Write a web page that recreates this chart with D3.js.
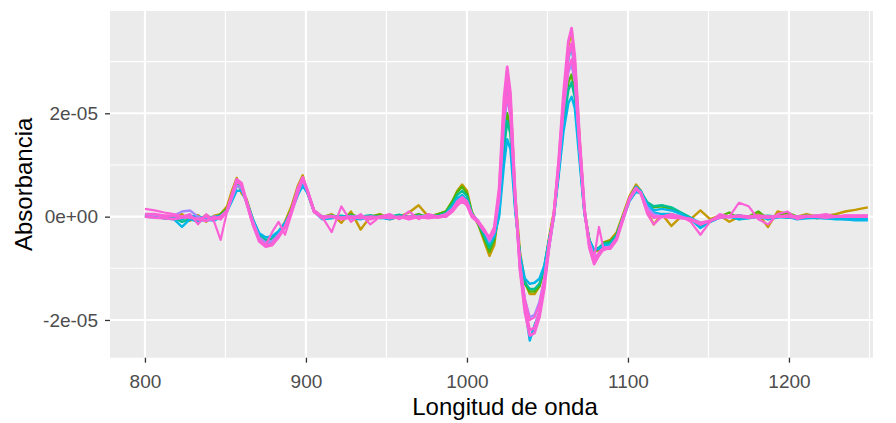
<!DOCTYPE html>
<html><head><meta charset="utf-8">
<script src="https://cdn.jsdelivr.net/npm/d3@7"></script>
<style>body{margin:0;background:#fff} svg{display:block} text{font-family:"Liberation Sans",Arial,sans-serif}</style>
</head><body><svg id="chart" width="896" height="423"></svg>
<script>
// Wavelength (nm)
const wavelengths = [800,806,812,818,823,828,833,838,843,847,
 851,854,857,860,863,867,871,875,879,883,
 887,891,895,898,901,905,910,916,922,928,
 934,940,946,952,958,964,970,976,982,987,
 991,994,997,1000,1003,1007,1011,1014,1017,1020,
 1023,1025,1027,1030,1033,1036,1039,1042,1045,1048,
 1051,1054,1057,1060,1063,1065,1067,1070,1073,1076,
 1079,1082,1085,1089,1093,1097,1101,1105,1108,1112,
 1116,1121,1127,1133,1139,1145,1151,1157,1163,1169,
 1175,1181,1187,1193,1199,1205,1211,1217,1223,1229,
 1235,1241,1249];

// Absorbance values, in units of 1e-05
const muestraA = [0.00,0.02,0.00,-0.02,0.05,-0.08,0.03,-0.10,0.02,0.05,
 0.20,0.50,0.75,0.45,0.35,-0.05,-0.35,-0.47,-0.44,-0.30,
 -0.10,0.20,0.60,0.80,0.45,0.10,-0.02,0.05,-0.12,0.10,
 -0.25,0.00,0.05,-0.05,0.00,0.08,0.22,0.00,0.05,0.10,
 0.30,0.50,0.62,0.50,0.10,-0.15,-0.50,-0.76,-0.55,0.20,
 2.00,2.85,2.30,0.40,-0.70,-1.25,-1.50,-1.50,-1.35,-1.00,
 -0.40,0.10,1.00,2.20,3.30,3.60,3.00,1.50,0.10,-0.45,
 -0.68,-0.65,-0.50,-0.45,-0.30,0.05,0.40,0.62,0.50,0.10,
 -0.15,0.05,-0.18,0.00,-0.05,0.12,-0.05,0.02,-0.10,0.00,
 0.00,0.05,-0.20,0.10,0.05,0.00,0.05,0.00,0.02,0.05,
 0.10,0.13,0.18];
const muestraB = [0.00,0.00,-0.03,0.00,-0.05,0.00,-0.08,0.03,-0.05,0.05,
 0.15,0.40,0.65,0.55,0.30,-0.10,-0.42,-0.52,-0.48,-0.35,
 -0.15,0.15,0.55,0.72,0.50,0.12,0.00,0.03,-0.02,0.05,
 -0.03,0.00,0.04,-0.04,0.02,0.00,0.05,-0.02,0.05,0.10,
 0.30,0.48,0.58,0.45,0.08,-0.15,-0.45,-0.68,-0.45,0.10,
 1.50,2.00,1.70,0.20,-0.80,-1.30,-1.45,-1.45,-1.35,-1.00,
 -0.45,0.05,0.90,1.90,2.60,2.75,2.40,1.20,0.10,-0.45,
 -0.68,-0.62,-0.50,-0.48,-0.35,0.00,0.35,0.55,0.50,0.25,
 0.18,0.20,0.15,0.05,-0.05,-0.18,-0.10,0.00,0.08,-0.05,
 0.00,0.10,-0.05,0.02,0.08,0.00,0.02,-0.03,0.00,0.02,
 0.00,0.00,0.00];
const muestraC = [0.02,0.00,0.00,-0.02,-0.10,-0.05,0.00,-0.05,0.00,0.00,
 0.12,0.38,0.60,0.58,0.32,-0.05,-0.35,-0.45,-0.42,-0.32,
 -0.15,0.12,0.50,0.68,0.48,0.12,0.00,0.00,0.02,-0.02,
 0.00,0.03,-0.03,0.00,0.04,-0.02,0.00,0.03,0.02,0.08,
 0.25,0.42,0.50,0.40,0.08,-0.12,-0.40,-0.60,-0.40,0.05,
 1.30,1.85,1.60,0.15,-0.80,-1.28,-1.40,-1.40,-1.30,-1.00,
 -0.45,0.00,0.85,1.80,2.45,2.60,2.30,1.15,0.05,-0.45,
 -0.65,-0.60,-0.52,-0.50,-0.35,0.00,0.32,0.52,0.48,0.28,
 0.20,0.22,0.18,0.08,-0.02,-0.15,-0.08,0.00,0.00,0.03,
 -0.02,0.00,0.02,0.00,-0.02,0.00,0.00,0.02,0.00,-0.02,
 0.00,0.00,0.00];
const muestraD = [0.05,0.00,-0.03,-0.05,-0.20,-0.05,-0.10,-0.05,-0.08,0.00,
 0.10,0.30,0.50,0.50,0.30,-0.05,-0.32,-0.40,-0.38,-0.28,
 -0.12,0.10,0.42,0.60,0.45,0.10,-0.05,-0.03,0.00,-0.03,
 -0.05,0.00,-0.02,-0.05,0.00,-0.03,0.00,-0.02,0.00,0.05,
 0.20,0.35,0.42,0.32,0.05,-0.10,-0.30,-0.50,-0.38,0.00,
 1.00,1.50,1.30,0.10,-0.75,-1.20,-1.30,-1.28,-1.20,-0.95,
 -0.45,0.00,0.80,1.65,2.20,2.32,2.10,1.05,0.05,-0.45,
 -0.65,-0.62,-0.55,-0.55,-0.40,-0.05,0.30,0.48,0.45,0.25,
 0.12,0.15,0.12,0.05,-0.05,-0.22,-0.10,-0.02,0.00,-0.05,
 -0.03,0.00,-0.05,-0.02,0.00,-0.05,-0.03,-0.02,-0.03,-0.05,
 -0.05,-0.07,-0.07];
const muestraE = [0.00,-0.02,0.00,0.00,-0.05,0.02,0.00,-0.02,0.00,0.02,
 0.12,0.35,0.60,0.55,0.28,-0.12,-0.45,-0.53,-0.50,-0.38,
 -0.20,0.10,0.48,0.68,0.48,0.10,0.00,-0.02,0.00,0.02,
 -0.02,0.00,0.00,0.02,-0.02,0.00,0.02,0.00,0.00,0.03,
 0.15,0.30,0.38,0.28,0.03,-0.10,-0.32,-0.52,-0.35,0.20,
 1.70,2.55,2.10,0.30,-1.00,-1.75,-2.40,-2.10,-1.85,-1.30,
 -0.60,0.00,1.00,2.20,3.05,3.30,2.80,1.35,0.15,-0.55,
 -0.85,-0.75,-0.60,-0.58,-0.40,0.00,0.35,0.58,0.50,0.20,
 0.08,0.05,0.05,0.00,-0.03,-0.12,-0.10,-0.02,0.00,0.00,
 -0.02,0.00,0.00,0.00,-0.02,-0.02,0.00,-0.02,-0.03,-0.03,
 -0.05,-0.05,-0.05];
const muestraF = [0.05,0.03,0.00,0.02,0.10,0.12,0.00,-0.08,-0.05,0.00,
 0.10,0.35,0.60,0.55,0.30,-0.08,-0.40,-0.50,-0.47,-0.35,
 -0.18,0.10,0.50,0.70,0.48,0.10,0.00,0.02,-0.03,0.00,
 0.02,-0.02,0.00,0.03,-0.03,0.00,0.00,0.02,0.00,0.05,
 0.15,0.28,0.35,0.28,0.05,-0.08,-0.28,-0.48,-0.30,0.30,
 1.80,2.30,1.95,0.25,-0.95,-1.60,-1.95,-1.90,-1.65,-1.20,
 -0.50,0.00,0.95,2.05,2.80,2.95,2.60,1.30,0.10,-0.50,
 -0.78,-0.72,-0.60,-0.58,-0.42,-0.02,0.32,0.52,0.48,0.18,
 0.05,0.00,0.02,0.00,-0.05,-0.15,-0.08,0.00,-0.02,0.02,
 0.00,-0.02,0.00,0.02,0.00,0.00,0.02,0.00,0.00,0.00,
 0.00,0.00,0.00];
const muestraG = [0.15,0.12,0.08,0.05,0.00,0.05,-0.15,0.05,-0.10,-0.45,
 0.10,0.40,0.68,0.60,0.25,-0.15,-0.45,-0.55,-0.30,-0.10,
 -0.35,0.05,0.45,0.72,0.50,0.08,0.00,-0.30,0.20,-0.10,
 0.05,-0.15,0.00,0.05,-0.05,0.10,-0.05,0.05,0.00,0.05,
 0.15,0.30,0.38,0.30,0.05,-0.08,-0.25,-0.45,-0.30,0.40,
 1.90,2.35,1.95,0.30,-0.90,-1.60,-2.00,-1.95,-1.70,-1.20,
 -0.50,0.05,1.00,2.10,2.85,3.05,2.65,1.30,0.10,-0.50,
 -0.80,-0.20,-0.65,-0.60,-0.42,-0.02,0.35,0.55,0.45,0.05,
 -0.15,0.00,0.05,0.00,-0.10,-0.35,-0.10,0.05,0.00,0.27,
 0.20,-0.05,-0.15,0.05,0.10,-0.05,0.00,0.02,0.05,0.00,
 0.02,0.02,0.02];
const muestraH = [0.05,0.05,0.02,0.02,0.00,-0.02,-0.05,0.00,-0.05,0.00,
 0.12,0.40,0.70,0.62,0.30,-0.12,-0.45,-0.56,-0.52,-0.38,
 -0.20,0.10,0.52,0.74,0.50,0.12,0.00,0.00,-0.02,0.00,
 -0.03,0.00,-0.02,0.00,-0.03,0.00,-0.02,0.00,-0.02,0.02,
 0.12,0.25,0.32,0.25,0.02,-0.10,-0.28,-0.42,-0.25,0.45,
 2.10,2.60,2.20,0.35,-1.00,-1.75,-2.20,-2.15,-1.85,-1.30,
 -0.55,0.05,1.05,2.25,3.10,3.35,2.90,1.40,0.12,-0.55,
 -0.88,-0.70,-0.60,-0.60,-0.42,-0.02,0.35,0.55,0.45,0.12,
 0.00,0.00,0.00,-0.02,-0.05,-0.15,-0.08,0.00,0.00,0.02,
 0.00,0.02,0.00,0.00,0.02,0.00,0.00,0.02,0.00,0.00,
 0.02,0.02,0.02];
const muestraI = [0.00,-0.02,-0.03,-0.05,-0.02,0.00,-0.05,-0.08,0.00,-0.05,
 0.10,0.42,0.72,0.65,0.30,-0.15,-0.48,-0.58,-0.55,-0.40,
 -0.20,0.12,0.55,0.76,0.50,0.10,-0.03,0.00,-0.05,-0.02,
 0.00,-0.05,0.00,-0.03,0.00,-0.05,0.00,-0.03,0.00,0.00,
 0.10,0.22,0.30,0.22,0.00,-0.12,-0.30,-0.40,-0.20,0.55,
 2.30,2.90,2.40,0.40,-1.05,-1.85,-2.30,-2.25,-1.95,-1.40,
 -0.60,0.05,1.10,2.40,3.40,3.65,3.10,1.50,0.15,-0.60,
 -0.92,-0.75,-0.62,-0.62,-0.45,-0.05,0.35,0.55,0.45,0.10,
 -0.02,0.00,-0.02,-0.03,-0.05,-0.12,-0.08,-0.02,0.00,0.00,
 -0.02,0.00,-0.02,0.00,0.00,-0.02,0.00,0.00,-0.02,0.00,
 0.00,0.00,0.00];

const seriesNames = ["A","B","C","D","E","F","G","H","I"];
const seriesValues = [muestraA,muestraB,muestraC,muestraD,muestraE,muestraF,muestraG,muestraH,muestraI];
const palette = ["#C49A00","#53B400","#00C094","#00B6EB","#00B6EB","#A58AFF","#FB61D7","#FB61D7","#FB61D7"];
const strokeWidths = [2.4,2.4,2.4,2.4,2.4,2.4,2.2,2.8,2.8];

const xMajorTicks = [800,900,1000,1100,1200];
const xTickLabels = ["800","900","1000","1100","1200"];
const xMinorTicks = [850,950,1050,1150,1250];
const yMajorTicks = [-2,0,2];
const yMajorLabels = ["-2e-05","0e+00","2e-05"];
const yMinorTicks = [-1,1,3];
const xDomain = [778.3,1252.2];
const yDomain = [-2.73,3.98];
const xTitle = "Longitud de onda";
const yTitle = "Absorbancia";

const svg = d3.select("#chart");
const P = {l:110, r:873, t:11, b:357.7};
const x = d3.scaleLinear().domain(xDomain).range([P.l,P.r]);
const y = d3.scaleLinear().domain(yDomain).range([P.b,P.t]);

svg.append("rect").attr("x",P.l).attr("y",P.t).attr("width",P.r-P.l).attr("height",P.b-P.t).attr("fill","#EBEBEB");

const grid = svg.append("g");
grid.selectAll(".ymin").data(yMinorTicks).join("line").attr("x1",P.l).attr("x2",P.r)
  .attr("y1",d=>y(d)).attr("y2",d=>y(d)).attr("stroke","#fff").attr("stroke-width",1.1);
grid.selectAll(".xmin").data(xMinorTicks).join("line").attr("y1",P.t).attr("y2",P.b)
  .attr("x1",d=>x(d)).attr("x2",d=>x(d)).attr("stroke","#fff").attr("stroke-width",1.1);
grid.selectAll(".ymaj").data(yMajorTicks).join("line").attr("x1",P.l).attr("x2",P.r)
  .attr("y1",d=>y(d)).attr("y2",d=>y(d)).attr("stroke","#fff").attr("stroke-width",2.1);
grid.selectAll(".xmaj").data(xMajorTicks).join("line").attr("y1",P.t).attr("y2",P.b)
  .attr("x1",d=>x(d)).attr("x2",d=>x(d)).attr("stroke","#fff").attr("stroke-width",2.1);

const line = d3.line().x((d,i)=>x(wavelengths[i])).y(d=>y(d));
const lines = svg.append("g");
seriesValues.forEach((vals,k)=>{
  lines.append("path").datum(vals).attr("d",line).attr("fill","none")
    .attr("stroke",palette[k]).attr("stroke-width",strokeWidths[k]).attr("stroke-linejoin","round")
    .attr("class","serie-"+seriesNames[k]);
});

const xAxis = svg.append("g").attr("transform",`translate(0,${P.b})`)
  .call(d3.axisBottom(x).tickValues(xMajorTicks).tickFormat((d,i)=>xTickLabels[i]).tickSize(5).tickPadding(12.3).tickSizeOuter(0));
const yAxis = svg.append("g").attr("transform",`translate(${P.l},0)`)
  .call(d3.axisLeft(y).tickValues(yMajorTicks).tickFormat((d,i)=>yMajorLabels[i]).tickSize(5).tickPadding(7).tickSizeOuter(0));
[xAxis,yAxis].forEach(a=>{
  a.select(".domain").remove();
  a.selectAll(".tick line").attr("stroke","#333333").attr("stroke-width",1.3);
  a.selectAll(".tick text").attr("fill","#4D4D4D").style("font-size","19px").style("font-family",'"Liberation Sans",Arial,sans-serif');
});

svg.append("text").attr("x",505).attr("y",415).attr("text-anchor","middle")
  .style("font-size","24px").attr("fill","#000").text(xTitle);
svg.append("text").attr("transform",`translate(31.5,${(P.t+P.b)/2}) rotate(-90)`).attr("text-anchor","middle")
  .style("font-size","24px").attr("fill","#000").text(yTitle);
</script></body></html>
